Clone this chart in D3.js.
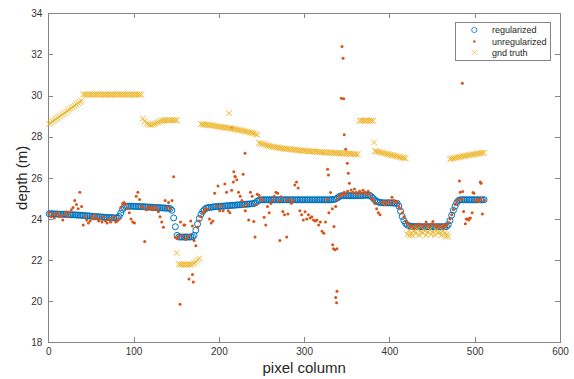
<!DOCTYPE html>
<html>
<head>
<meta charset="utf-8">
<script src="https://cdn.jsdelivr.net/npm/d3@7"></script>
<style>
  body { margin: 0; background: #fff; }
  svg { display: block; font-family: "Liberation Sans", Arial, Helvetica, sans-serif; }
  .axis path, .axis line { stroke: #858585; shape-rendering: crispEdges; }
  .axis text { fill: #333; font-size: 10px; }
</style>
</head>
<body>
<svg id="chart" width="574" height="379"></svg>
<script>
// ticks
const xTicks = [0, 100, 200, 300, 400, 500, 600];
const yTicks = [18, 20, 22, 24, 26, 28, 30, 32, 34];
const seriesNames = ['regularized', 'unregularized', 'gnd truth'];

// pixel columns 1,3,5,...,511 (every other column)
const columns = d3.range(1, 512, 2);

const regularized = [
  24.25,24.25,24.25,24.24,24.24,24.24,24.23,24.23,24.23,24.22,24.22,24.21,24.21,24.2,24.2,
  24.2,24.19,24.19,24.18,24.18,24.17,24.16,24.15,24.15,24.14,24.13,24.12,24.12,24.11,24.1,
  24.1,24.09,24.08,24.08,24.07,24.07,24.06,24.06,24.05,24.05,24.06,24.12,24.28,24.45,24.56,
  24.6,24.62,24.62,24.62,24.62,24.61,24.61,24.6,24.6,24.6,24.59,24.59,24.58,24.58,24.57,
  24.57,24.56,24.56,24.55,24.55,24.54,24.54,24.53,24.53,24.52,24.52,24.5,24.42,24.05,23.62,
  23.2,23.12,23.12,23.12,23.12,23.12,23.12,23.12,23.12,23.13,23.2,23.45,23.75,24.02,24.22,
  24.36,24.45,24.52,24.55,24.56,24.57,24.58,24.59,24.6,24.6,24.61,24.62,24.62,24.63,24.64,
  24.64,24.65,24.66,24.66,24.67,24.68,24.68,24.69,24.7,24.7,24.71,24.72,24.72,24.73,24.74,
  24.75,24.78,24.86,24.91,24.93,24.93,24.93,24.93,24.93,24.93,24.93,24.93,24.93,24.93,24.93,
  24.93,24.93,24.93,24.93,24.93,24.93,24.93,24.93,24.93,24.93,24.93,24.93,24.93,24.93,24.93,
  24.93,24.93,24.93,24.93,24.93,24.93,24.93,24.93,24.93,24.93,24.93,24.93,24.93,24.93,24.93,
  24.93,24.94,24.95,24.97,25.02,25.08,25.12,25.13,25.13,25.13,25.13,25.13,25.13,25.13,25.13,
  25.13,25.13,25.14,25.14,25.14,25.15,25.15,25.15,25.14,25.08,25.0,24.92,24.86,24.82,24.8,
  24.79,24.78,24.78,24.78,24.78,24.78,24.78,24.77,24.77,24.76,24.62,24.38,24.12,23.92,23.78,
  23.7,23.66,23.64,23.63,23.63,23.63,23.63,23.62,23.62,23.62,23.62,23.62,23.62,23.62,23.62,
  23.62,23.62,23.62,23.62,23.62,23.62,23.62,23.62,23.63,23.72,23.92,24.18,24.42,24.62,24.8,
  24.9,24.93,24.93,24.93,24.93,24.93,24.93,24.93,24.93,24.93,24.93,24.93,24.93,24.93,24.93,24.93
];

const unregularized = [
  24.3,24.1,24.25,24.05,24.2,24.3,24.1,24.15,23.95,24.2,24.35,24.1,24.3,24.45,24.55,
  24.9,24.7,24.5,25.3,24.6,23.7,24.1,23.95,23.8,23.9,24.1,24.0,24.2,24.05,23.9,
  24.0,23.85,24.1,23.9,23.8,24.0,23.85,23.95,24.1,23.85,23.9,24.0,24.55,24.75,24.8,
  24.7,24.5,24.3,24.0,23.85,23.8,25.1,25.3,24.95,24.6,24.55,22.9,24.45,24.6,24.5,
  24.55,24.45,24.6,24.5,24.35,24.1,23.85,23.6,24.9,24.55,24.8,24.5,24.9,26.05,23.1,
  23.05,23.15,23.85,23.2,23.7,23.0,23.1,23.2,23.9,23.65,22.95,22.7,23.6,23.9,24.1,
  24.3,24.4,24.5,24.45,24.0,23.8,23.9,25.25,24.6,25.6,24.4,24.65,24.4,25.7,25.3,
  24.4,24.3,25.4,25.8,26.05,25.9,25.3,25.1,24.9,24.6,24.4,24.7,23.95,25.3,25.1,
  23.87,24.7,25.2,25.15,25.0,24.9,24.08,23.7,24.6,24.3,24.75,24.9,25.1,25.3,25.25,
  24.9,25.08,24.36,24.2,24.9,24.24,24.95,24.76,24.9,25.65,25.8,25.5,24.4,24.2,23.95,
  24.35,24.0,24.2,24.05,24.1,23.95,23.9,23.95,23.7,23.85,23.4,23.3,23.85,24.95,24.3,
  25.28,24.5,23.63,24.6,24.95,25.1,25.15,25.2,25.3,25.2,25.35,25.74,25.41,25.3,25.45,
  25.3,25.2,25.35,25.25,25.4,25.3,25.2,25.35,25.2,25.0,24.9,24.75,24.5,24.3,24.2,
  24.75,24.85,24.7,24.8,24.9,24.75,25.05,24.9,24.8,24.85,24.6,24.5,24.3,24.1,23.9,
  23.8,23.7,23.6,23.65,23.55,23.7,23.6,23.75,23.65,23.6,23.7,23.85,23.7,23.6,23.75,
  23.87,23.7,23.6,23.7,23.65,23.6,23.7,23.6,23.7,23.8,24.0,24.2,24.45,24.7,24.85,
  24.95,25.3,24.95,24.36,23.76,24.0,23.95,24.05,24.3,25.25,24.9,24.95,24.85,25.0,24.24,24.9
];

// scattered unregularized points off the band: [column, depth]
const unregOutliers = [
  [154.5,19.85],[165,21.08],[169,21.3],[170,20.93],[160,23.7],
  [215,28.45],[217.5,26.3],[219,26.06],[228.5,26.17],[230.7,27.2],
  [242.4,23.12],[271.5,22.95],[279.5,23.12],
  [327.5,26.42],[328.5,26.14],[333.5,22.75],[334.5,22.55],[336,22.5],[338.5,22.55],
  [338.5,20.48],[337,20.18],[338,19.92],
  [344.4,32.38],[345.6,31.82],[343.6,29.87],[346.4,29.84],
  [347,28.09],[348.7,27.39],[350.6,26.71],[351.8,26.22],
  [482,25.85],[486,25.33],[498,25.28],[506.5,25.8],[507.5,25.74],[485.5,30.6],[490,24.0],[494,24.03]
];

const gndTruth = [
  28.62,28.68,28.74,28.8,28.86,28.92,28.97,29.03,29.09,29.15,29.21,29.27,29.33,29.39,29.45,
  29.51,29.57,29.63,29.69,29.75,30.05,30.05,30.05,30.05,30.05,30.05,30.05,30.05,30.05,30.05,
  30.05,30.05,30.05,30.05,30.05,30.05,30.05,30.05,30.05,30.05,30.05,30.05,30.05,30.05,30.05,
  30.05,30.05,30.05,30.05,30.05,30.05,30.05,30.05,30.05,30.05,28.88,28.75,28.65,28.6,28.58,
  28.58,28.6,28.63,28.67,28.7,28.74,28.77,28.79,28.8,28.8,28.8,28.8,28.8,28.8,28.8,
  28.8,21.8,21.78,21.78,21.78,21.78,21.78,21.78,21.78,21.8,21.85,21.92,22.0,22.08,28.62,
  28.6,28.59,28.58,28.57,28.56,28.55,28.54,28.52,28.51,28.5,28.48,28.47,28.46,28.45,28.43,
  28.42,28.41,28.39,28.38,28.36,28.35,28.33,28.31,28.3,28.28,28.26,28.24,28.22,28.2,28.18,
  28.16,28.12,28.1,27.7,27.68,27.65,27.62,27.6,27.57,27.55,27.53,27.51,27.5,27.48,27.47,
  27.45,27.44,27.43,27.42,27.41,27.4,27.39,27.38,27.37,27.36,27.35,27.34,27.33,27.33,27.32,
  27.31,27.3,27.3,27.29,27.28,27.28,27.27,27.26,27.26,27.25,27.25,27.24,27.24,27.23,27.23,
  27.22,27.22,27.21,27.21,27.2,27.2,27.19,27.19,27.18,27.18,27.17,27.17,27.16,27.16,27.15,
  27.15,27.14,28.78,28.78,28.78,28.78,28.78,28.78,28.78,28.78,28.77,27.3,27.28,27.26,27.24,
  27.22,27.2,27.18,27.16,27.14,27.12,27.1,27.08,27.06,27.04,27.02,27.0,26.98,26.96,26.95,
  23.25,23.45,23.3,23.2,23.42,23.28,23.5,23.22,23.38,23.3,23.45,23.2,23.35,23.48,23.25,
  23.4,23.22,23.45,23.3,23.38,23.2,23.42,23.3,23.25,23.15,26.92,26.93,26.95,26.97,26.99,
  27.0,27.02,27.04,27.05,27.07,27.08,27.1,27.11,27.13,27.14,27.16,27.17,27.18,27.2,27.21,27.22
];

const gndExtra = [[150.5,22.35],[212,29.14],[382,27.72],[424,23.2],[466.5,23.14]];

const colors = { reg: '#0072BD', unreg: '#D95319', gnd: '#EDB120' };

const svg = d3.select('#chart');
const box = { left: 48.3, right: 560, top: 13.3, bottom: 342.3 };

const x = d3.scaleLinear().domain([0, 600]).range([box.left, box.right]);
const y = d3.scaleLinear().domain([18, 34]).range([box.bottom, box.top]);

// axes (MATLAB style: box on, ticks inside)
svg.append('g').attr('class', 'axis')
  .attr('transform', 'translate(0,' + box.bottom + ')')
  .call(d3.axisBottom(x).tickValues(xTicks).tickSizeInner(-5).tickSizeOuter(0).tickPadding(6));
svg.append('g').attr('class', 'axis')
  .attr('transform', 'translate(0,' + box.top + ')')
  .call(d3.axisTop(x).tickValues(xTicks).tickSizeInner(-5).tickSizeOuter(0).tickFormat(''));
svg.append('g').attr('class', 'axis')
  .attr('transform', 'translate(' + box.left + ',0)')
  .call(d3.axisLeft(y).tickValues(yTicks).tickSizeInner(-5).tickSizeOuter(0).tickPadding(6));
svg.append('g').attr('class', 'axis')
  .attr('transform', 'translate(' + box.right + ',0)')
  .call(d3.axisRight(y).tickValues(yTicks).tickSizeInner(-5).tickSizeOuter(0).tickFormat(''));

const plot = svg.append('g');

const xMark = s => 'M' + (-s) + ',' + (-s) + 'L' + s + ',' + s + 'M' + (-s) + ',' + s + 'L' + s + ',' + (-s);

// regularized: open circles
plot.selectAll('circle.reg')
  .data(columns.map((c, i) => [c, regularized[i]]))
  .enter().append('circle')
  .attr('class', 'reg')
  .attr('cx', d => x(d[0]))
  .attr('cy', d => y(d[1]))
  .attr('r', 3)
  .attr('fill', 'none')
  .attr('stroke', colors.reg)
  .attr('stroke-width', 1);

// unregularized: dots
const unregPts = columns.map((c, i) => [c, unregularized[i]]).concat(unregOutliers);
plot.selectAll('circle.unreg')
  .data(unregPts)
  .enter().append('circle')
  .attr('class', 'unreg')
  .attr('cx', d => x(d[0]))
  .attr('cy', d => y(d[1]))
  .attr('r', 1.5)
  .attr('fill', colors.unreg);

// gnd truth: x markers
const gndPts = columns.map((c, i) => [c, gndTruth[i]]).concat(gndExtra);
plot.selectAll('path.gnd')
  .data(gndPts)
  .enter().append('path')
  .attr('class', 'gnd')
  .attr('transform', d => 'translate(' + x(d[0]) + ',' + y(d[1]) + ')')
  .attr('d', xMark(2.9))
  .attr('fill', 'none')
  .attr('stroke', colors.gnd)
  .attr('stroke-width', 0.9);

// axis labels
svg.append('text')
  .attr('x', (box.left + box.right) / 2)
  .attr('y', 373)
  .attr('text-anchor', 'middle')
  .attr('font-size', 15)
  .attr('fill', '#262626')
  .text('pixel column');

svg.append('text')
  .attr('transform', 'translate(27,' + ((box.top + box.bottom) / 2) + ') rotate(-90)')
  .attr('text-anchor', 'middle')
  .attr('font-size', 15)
  .attr('fill', '#262626')
  .text('depth (m)');

// legend
const legend = svg.append('g').attr('transform', 'translate(455.5,22.5)');
legend.append('rect')
  .attr('width', 95).attr('height', 38)
  .attr('fill', '#fff').attr('stroke', '#858585').attr('stroke-width', 1)
  .attr('shape-rendering', 'crispEdges');

const rowY = [7.5, 19, 30];
const items = legend.selectAll('g.item')
  .data(seriesNames)
  .enter().append('g')
  .attr('transform', (d, i) => 'translate(0,' + rowY[i] + ')');

items.append('text')
  .attr('x', 36.5)
  .attr('y', 3.2)
  .attr('font-size', 9)
  .attr('fill', '#262626')
  .text(d => d);

items.filter((d, i) => i === 0).append('circle')
  .attr('cx', 18.8).attr('r', 2.6)
  .attr('fill', 'none').attr('stroke', colors.reg).attr('stroke-width', 0.8);
items.filter((d, i) => i === 1).append('circle')
  .attr('cx', 18.8).attr('r', 1.3)
  .attr('fill', colors.unreg);
items.filter((d, i) => i === 2).append('path')
  .attr('transform', 'translate(18.8,0)')
  .attr('d', xMark(2.7))
  .attr('fill', 'none').attr('stroke', colors.gnd).attr('stroke-width', 0.7);
</script>
</body>
</html>
